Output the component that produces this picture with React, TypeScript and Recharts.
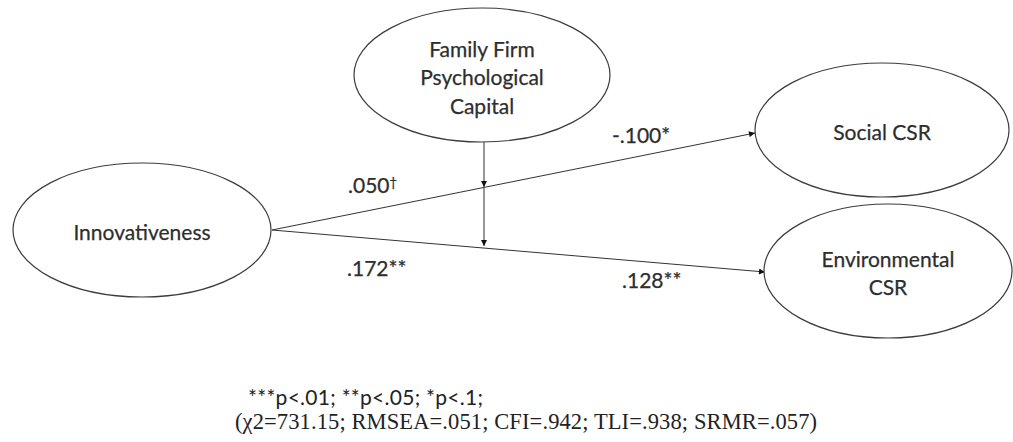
import { ScatterChart, Scatter, XAxis, YAxis } from "recharts"

// latent constructs of the path model (diagram coordinates, y grows downwards)
const nodeLines = [["Innovativeness"], ["Family Firm", "Psychological", "Capital"], ["Social CSR"], ["Environmental", "CSR"]]
const nodeX = [142, 482, 882, 888]
const nodeY = [230, 75, 130, 271]

// structural paths: start point, end point
const pathFrom = [
  [272, 230],
  [272, 230],
  [484, 141],
  [484, 188],
]
const pathTo = [
  [755, 133],
  [765, 272],
  [484, 187],
  [484, 246],
]

// path coefficients
const coefText = [".050†", ".172**", "-.100*", ".128**"]
const coefX = [348, 347, 612, 622]
const coefY = [193, 276, 143, 288]

// fit notes under the model
const noteText = ["***p<.01; **p<.05; *p<.1;", "(χ2=731.15; RMSEA=.051; CFI=.942; TLI=.938; SRMR=.057)"]
const noteX = [248, 235]
const noteY = [405, 429]

const W = 1013
const H = 442
const NODE_RX = [129, 128, 127, 124]
const NODE_RY = 67
const LINE_GAP = 28.5
const SANS = "Lato, 'Open Sans', sans-serif"
const SERIF = "'Liberation Serif', 'DejaVu Serif', serif"
const INK = "#2e2e2e"

const nodes = nodeLines.map((lines, i) => ({ x: nodeX[i], y: nodeY[i], lines, idx: i }))
const coefs = coefText.map((text, i) => ({ x: coefX[i], y: coefY[i], text }))
const notes = noteText.map((text, i) => ({ x: noteX[i], y: noteY[i], text, idx: i }))
const paths = pathFrom.map((from, i) => [
  { x: from[0], y: from[1] },
  { x: pathTo[i][0], y: pathTo[i][1] },
])

const NodeShape = (props: any) => {
  const { cx, cy, payload } = props
  const lines: string[] = payload.lines
  const n = lines.length
  return (
    <g>
      <ellipse cx={cx} cy={cy} rx={NODE_RX[payload.idx]} ry={NODE_RY} fill="#fff" stroke="#3c3c3c" strokeWidth={1.2} />
      {lines.map((line, i) => (
        <text
          key={line}
          x={cx}
          y={cy + 10 + (i - (n - 1) / 2) * LINE_GAP}
          textAnchor="middle"
          fontFamily={SANS}
          fontSize={21}
          fill={INK}
          stroke={INK}
          strokeWidth={0.25}
        >
          {line}
        </text>
      ))}
    </g>
  )
}

const CoefShape = (props: any) => {
  const { cx, cy, payload } = props
  const text: string = payload.text
  const dagger = text.endsWith("†")
  return (
    <text x={cx} y={cy} fontFamily={SANS} fontSize={21} fill={INK} stroke={INK} strokeWidth={0.25}>
      {dagger ? text.slice(0, -1) : text}
      {dagger && (
        <tspan fontSize={13} dy={-6}>
          †
        </tspan>
      )}
    </text>
  )
}

const NoteShape = (props: any) => {
  const { cx, cy, payload } = props
  const first = payload.idx === 0
  return (
    <text
      x={cx}
      y={cy}
      fontFamily={first ? SANS : SERIF}
      fontSize={first ? 21 : 22.5}
      textLength={first ? 235 : 582}
      fill="#222"
    >
      {payload.text}
    </text>
  )
}

export default function App() {
  return (
    <div style={{ position: "absolute", left: 0, top: 0, width: W, height: H, background: "#fff" }}>
      <ScatterChart width={W} height={H} margin={{ top: 0, right: 0, bottom: 0, left: 0 }}>
        <defs>
          <marker
            id="arrowHead"
            viewBox="0 0 10 10"
            refX={10}
            refY={5}
            markerWidth={7}
            markerHeight={6}
            markerUnits="userSpaceOnUse"
            orient="auto"
          >
            <path d="M0,0 L10,5 L0,10 z" fill="#111" />
          </marker>
        </defs>
        <XAxis type="number" dataKey="x" domain={[0, W]} hide allowDataOverflow />
        <YAxis type="number" dataKey="y" domain={[0, H]} reversed hide allowDataOverflow />
        {paths.map((pts, i) => (
          <Scatter
            key={`path-${i}`}
            data={pts}
            line={{ stroke: "#333", strokeWidth: 1, markerEnd: "url(#arrowHead)" }}
            lineJointType="linear"
            shape={() => <g />}
            fill="#333"
            legendType="none"
            isAnimationActive={false}
          />
        ))}
        <Scatter data={nodes} shape={NodeShape} fill="#fff" isAnimationActive={false} />
        <Scatter data={coefs} shape={CoefShape} fill={INK} isAnimationActive={false} />
        <Scatter data={notes} shape={NoteShape} fill={INK} isAnimationActive={false} />
      </ScatterChart>
    </div>
  )
}
